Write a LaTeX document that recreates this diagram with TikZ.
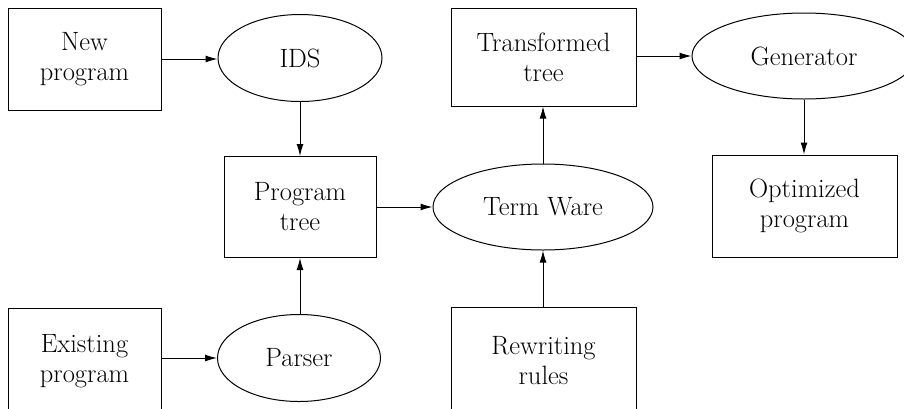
\documentclass[tikz,border=0pt]{standalone}
\usetikzlibrary{shapes.geometric,arrows.meta}
\begin{document}
\begin{tikzpicture}[x=1pt,y=-1pt,
  every node/.style={font=\fontsize{26.5}{30}\selectfont, align=center, inner sep=0pt, line width=1pt},
  boxnode/.style={draw, rectangle},
  ellnode/.style={draw, ellipse},
  flow/.style={-{Latex[length=12pt,width=7pt]}, line width=1pt}]
\useasboundingbox (0,0) rectangle (904,408);
\clip (0,0) rectangle (904,408);
\node[boxnode, minimum width=153, minimum height=102] (np) at (84.5,59) {New\\program};
\node[ellnode, minimum width=164, minimum height=87] (ids) at (300,58) {IDS};
\node[boxnode, minimum width=152, minimum height=101] (pt) at (300,207) {Program\\tree};
\node[boxnode, minimum width=153, minimum height=106] (ep) at (84.5,361) {Existing\\program};
\node[ellnode, minimum width=163, minimum height=87] (parser) at (299,358) {Parser};
\node[ellnode, minimum width=220, minimum height=86] (tw) at (543,207) {Term Ware};
\node[boxnode, minimum width=185, minimum height=98] (tt) at (543.5,57) {Transformed\\tree};
\node[ellnode, minimum width=224, minimum height=86] (gen) at (804,56) {Generator};
\node[boxnode, minimum width=185, minimum height=102] (op) at (804.5,206) {Optimized\\program};
\node[boxnode, minimum width=185, minimum height=108] (rr) at (543.5,361) {Rewriting\\rules};
\draw[flow] (np.east) -- (ids.west |- np.east);
\draw[flow] (ids.south) -- (pt.north -| ids.south);
\draw[flow] (pt.east) -- (tw.west |- pt.east);
\draw[flow] (parser.north -| pt.south) -- (pt.south);
\draw[flow] (ep.east |- parser.west) -- (parser.west);
\draw[flow] (rr.north -| tw.south) -- (tw.south);
\draw[flow] (tw.north) -- (tt.south -| tw.north);
\draw[flow] (tt.east |- gen.west) -- (gen.west);
\draw[flow] (gen.south) -- (op.north -| gen.south);
\end{tikzpicture}
\end{document}
